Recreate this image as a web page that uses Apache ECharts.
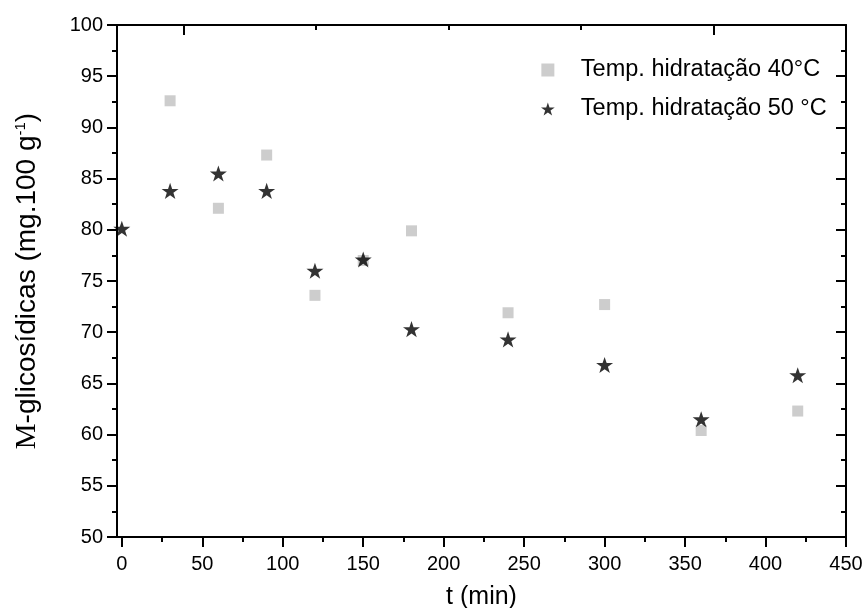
<!DOCTYPE html>
<html>
<head>
<meta charset="utf-8">
<script src="https://cdn.jsdelivr.net/npm/echarts@6/dist/echarts.min.js"></script>
<style>
html,body{margin:0;padding:0;background:#fff;}
#chart{width:866px;height:608px;}
</style>
</head>
<body>
<div id="chart"></div>
<script>
// Data
var times = [0, 30, 60, 90, 120, 150, 180, 240, 300, 360, 420];
var temp40 = [null, 92.6, 82.1, 87.3, 73.6, 77.0, 79.9, 71.9, 72.7, 60.4, 62.3];
var temp50 = [80.1, 83.8, 85.5, 83.8, 76.0, 77.1, 70.3, 69.3, 66.8, 61.5, 65.8];
var seriesNames = ['Temp. hidratação 40°C', 'Temp. hidratação 50 °C'];
var xMajorTicks = [0, 50, 100, 150, 200, 250, 300, 350, 400, 450];
var xMinorTicks = [25, 75, 125, 175, 225, 275, 325, 375, 425];
var topMajorTicks = [38.5, 367.7];
var topMinorTicks = [120.8, 203.1, 285.4];

function pairs(xs, ys) {
  var out = [];
  for (var i = 0; i < xs.length; i++) {
    if (ys[i] !== null) out.push([xs[i], ys[i]]);
  }
  return out;
}

var STAR = 'path://M50,0 L61.8,35.1 L98.9,35.1 L69,57.3 L80.3,92.7 L50,71 L19.7,92.7 L31,57.3 L1.1,35.1 L38.2,35.1 Z';
var SQUARE = 'path://M0,0 L10,0 L10,10 L0,10 Z';
var FONT = 'Liberation Sans';
var lineStyle = {color: '#000', width: 2};

var chart = echarts.init(document.getElementById('chart'), null, {renderer: 'canvas'});
var option = {
  backgroundColor: '#fff',
  animation: false,
  grid: {left: 117, right: 20, top: 25, bottom: 71, outerBoundsMode: 'none', containLabel: false},
  legend: {
    orient: 'vertical',
    left: 541,
    top: 58,
    padding: 0,
    itemWidth: 56,
    itemHeight: 13,
    itemGap: 15,
    symbolKeepAspect: true,
    textStyle: {fontFamily: FONT, fontSize: 23.5, color: '#000'},
    data: [
      {name: seriesNames[0], icon: SQUARE},
      {name: seriesNames[1], icon: STAR}
    ]
  },
  xAxis: [
    {
      type: 'value', position: 'bottom', min: -3, max: 450,
      axisLine: {show: true, onZero: false, lineStyle: lineStyle},
      axisTick: {show: true, inside: false, length: 10, lineStyle: lineStyle, customValues: xMajorTicks},
      axisLabel: {show: true, fontFamily: FONT, fontSize: 20, color: '#000', margin: 17, customValues: xMajorTicks},
      splitLine: {show: false},
      name: 't (min)', nameLocation: 'middle', nameGap: 48,
      nameTextStyle: {fontFamily: FONT, fontSize: 25, color: '#000'}
    },
    {
      type: 'value', position: 'bottom', min: -3, max: 450,
      axisLine: {show: false, onZero: false},
      axisTick: {show: true, inside: false, length: 5, lineStyle: lineStyle, customValues: xMinorTicks},
      axisLabel: {show: false},
      splitLine: {show: false}
    },
    {
      type: 'value', position: 'top', min: -3, max: 450,
      axisLine: {show: true, onZero: false, lineStyle: lineStyle},
      axisTick: {show: true, inside: true, length: 10, lineStyle: lineStyle, customValues: topMajorTicks},
      axisLabel: {show: false},
      splitLine: {show: false}
    },
    {
      type: 'value', position: 'top', min: -3, max: 450,
      axisLine: {show: false, onZero: false},
      axisTick: {show: true, inside: true, length: 5, lineStyle: lineStyle, customValues: topMinorTicks},
      axisLabel: {show: false},
      splitLine: {show: false}
    }
  ],
  yAxis: [
    {
      type: 'value', position: 'left', min: 50, max: 100, interval: 5,
      axisLine: {show: true, onZero: false, lineStyle: lineStyle},
      axisTick: {show: true, inside: false, length: 10, lineStyle: lineStyle},
      minorTick: {show: true, splitNumber: 2, length: 5, lineStyle: lineStyle},
      axisLabel: {fontFamily: FONT, fontSize: 20, color: '#000', margin: 14},
      splitLine: {show: false},
      minorSplitLine: {show: false},
      name: '{m|M}-glicosídicas (mg.100 g{sup|-1})',
      nameLocation: 'middle', nameGap: 75, nameRotate: 90,
      nameTextStyle: {
        fontFamily: FONT, fontSize: 28, color: '#000',
        rich: {
          m: {fontFamily: 'Liberation Serif', fontSize: 29, color: '#000'},
          sup: {fontFamily: FONT, fontSize: 15, color: '#000', verticalAlign: 'top', padding: [0, 0, 14, 0]}
        }
      }
    },
    {
      type: 'value', position: 'right', min: 50, max: 100, interval: 5,
      axisLine: {show: true, onZero: false, lineStyle: lineStyle},
      axisTick: {show: true, inside: true, length: 10, lineStyle: lineStyle},
      minorTick: {show: true, splitNumber: 2, length: 5, lineStyle: lineStyle},
      axisLabel: {show: false},
      splitLine: {show: false}
    }
  ],
  series: [
    {
      name: seriesNames[0], type: 'scatter', xAxisIndex: 0, yAxisIndex: 0,
      symbol: 'rect', symbolSize: 11,
      itemStyle: {color: '#c0c0c0'},
      data: pairs(times, temp40), z: 2
    },
    {
      name: seriesNames[1], type: 'scatter', xAxisIndex: 0, yAxisIndex: 0,
      symbol: STAR, symbolSize: 17, symbolKeepAspect: true,
      itemStyle: {color: '#000'},
      data: pairs(times, temp50), z: 3
    }
  ]
};
chart.setOption(option);
</script>
</body>
</html>
